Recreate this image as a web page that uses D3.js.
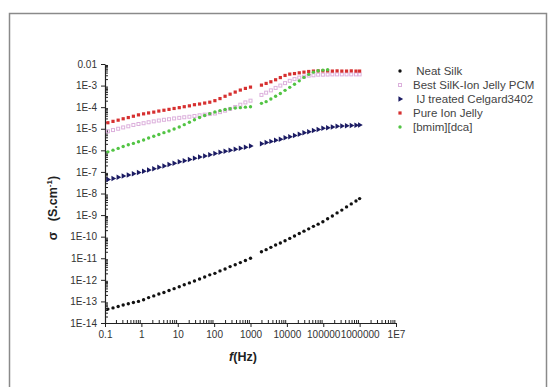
<!DOCTYPE html>
<html>
<head>
<meta charset="utf-8">
<title>Conductivity vs frequency</title>
<script src="https://d3js.org/d3.v7.min.js"></script>
<style>
  body { margin: 0; background: #fff; }
  svg text { font-family: "Liberation Sans", Arial, sans-serif; }
</style>
</head>
<body>
<div id="chart"></div>
<script>
// frequencies (Hz): first sweep up to 1 kHz, second sweep from 2 kHz
var freq = [0.12, 0.166, 0.23, 0.316, 0.437, 0.603, 0.832, 1.15, 1.58, 2.19, 3.02, 4.17, 5.75, 7.94,
  11, 15.1, 20.9, 28.8, 39.8, 55, 75.9, 105, 145, 200, 275, 380, 525, 724, 1000,
  2000, 2690, 3630, 4900, 6610, 8910, 12000, 16200, 21900, 29500, 39800, 53700, 72400, 97700,
  132000, 178000, 240000, 324000, 437000, 589000, 794000, 1000000];

var neatSilk = [4.4e-14, 5.0e-14, 5.8e-14, 6.8e-14, 7.8e-14, 8.9e-14, 1.0e-13, 1.2e-13, 1.5e-13, 1.8e-13,
  2.2e-13, 2.6e-13, 3.2e-13, 3.9e-13, 4.8e-13, 5.9e-13, 7.2e-13, 8.9e-13, 1.1e-12, 1.35e-12,
  1.7e-12, 2.0e-12, 2.6e-12, 3.2e-12, 4.1e-12, 5.0e-12, 6.3e-12, 7.9e-12, 1.0e-11,
  2.0e-11, 2.5e-11, 3.2e-11, 4.1e-11, 5.1e-11, 6.5e-11, 8.3e-11, 1.07e-10, 1.4e-10, 1.8e-10,
  2.3e-10, 3.0e-10, 3.8e-10, 4.9e-10, 6.8e-10, 9.1e-10, 1.26e-9, 1.7e-9, 2.4e-9, 3.3e-9, 4.5e-9, 5.8e-9];

var bestPCM = [7.6e-6, 8.7e-6, 1.0e-5, 1.15e-5, 1.3e-5, 1.5e-5, 1.66e-5, 1.8e-5, 2.0e-5, 2.2e-5,
  2.4e-5, 2.6e-5, 2.75e-5, 3.0e-5, 3.2e-5, 3.4e-5, 3.6e-5, 3.9e-5, 4.2e-5, 4.5e-5,
  4.8e-5, 5.1e-5, 5.9e-5, 6.9e-5, 8.3e-5, 1.02e-4, 1.3e-4, 1.66e-4, 2.0e-4,
  3.7e-4, 4.7e-4, 6.0e-4, 7.8e-4, 1.0e-3, 1.3e-3, 1.66e-3, 2.0e-3, 2.35e-3, 2.6e-3,
  2.9e-3, 3.0e-3, 3.2e-3, 3.2e-3, 3.25e-3, 3.3e-3, 3.3e-3, 3.3e-3, 3.3e-3, 3.3e-3, 3.3e-3, 3.3e-3];

var ijCelgard = [4.4e-8, 5.0e-8, 5.6e-8, 6.5e-8, 7.2e-8, 8.3e-8, 9.3e-8, 1.07e-7, 1.23e-7, 1.4e-7,
  1.66e-7, 1.9e-7, 2.2e-7, 2.5e-7, 2.95e-7, 3.3e-7, 3.8e-7, 4.3e-7, 4.9e-7, 5.5e-7,
  6.3e-7, 7.2e-7, 8.1e-7, 9.1e-7, 1.02e-6, 1.12e-6, 1.26e-6, 1.4e-6, 1.6e-6,
  2.0e-6, 2.3e-6, 2.6e-6, 2.95e-6, 3.3e-6, 3.8e-6, 4.3e-6, 4.9e-6, 5.6e-6, 6.5e-6,
  7.2e-6, 8.3e-6, 9.3e-6, 1.05e-5, 1.12e-5, 1.2e-5, 1.3e-5, 1.35e-5, 1.38e-5, 1.41e-5, 1.45e-5, 1.48e-5];

var pureIonJelly = [1.9e-5, 2.2e-5, 2.5e-5, 2.9e-5, 3.3e-5, 3.8e-5, 4.4e-5, 4.9e-5, 5.4e-5, 5.9e-5,
  6.6e-5, 7.2e-5, 7.9e-5, 8.7e-5, 9.5e-5, 1.05e-4, 1.15e-4, 1.3e-4, 1.4e-4, 1.55e-4,
  1.7e-4, 2.0e-4, 2.5e-4, 3.2e-4, 4.0e-4, 5.0e-4, 6.2e-4, 7.4e-4, 8.5e-4,
  1.05e-3, 1.26e-3, 1.5e-3, 1.86e-3, 2.35e-3, 2.95e-3, 3.4e-3, 3.6e-3, 3.9e-3, 4.2e-3,
  4.5e-3, 4.7e-3, 4.8e-3, 4.8e-3, 4.8e-3, 4.7e-3, 4.8e-3, 4.7e-3, 4.7e-3, 4.8e-3, 4.7e-3, 4.7e-3];

var bmimDca = [8.5e-7, 1.02e-6, 1.23e-6, 1.5e-6, 1.8e-6, 2.1e-6, 2.5e-6, 3.0e-6, 3.7e-6, 4.5e-6,
  5.4e-6, 6.6e-6, 7.9e-6, 9.8e-6, 1.2e-5, 1.55e-5, 2.0e-5, 2.6e-5, 3.3e-5, 4.1e-5,
  5.0e-5, 6.0e-5, 6.9e-5, 7.8e-5, 8.5e-5, 9.1e-5, 9.5e-5, 1.0e-4, 1.05e-4,
  1.5e-4, 1.8e-4, 2.4e-4, 3.2e-4, 4.3e-4, 6.0e-4, 8.3e-4, 1.15e-3, 1.66e-3, 2.4e-3,
  3.3e-3, 4.2e-3, 4.9e-3, 5.2e-3, 5.4e-3];

var seriesNames = [" Neat Silk", "Best SilK-Ion Jelly PCM", " IJ treated Celgard3402", "Pure Ion Jelly", "[bmim][dca]"];
var seriesValues = [neatSilk, bestPCM, ijCelgard, pureIonJelly, bmimDca];

var xTicks = [0.1, 1, 10, 100, 1000, 10000, 100000, 1000000, 1e7];
var xTickLabels = ["0.1", "1", "10", "100", "1000", "10000", "100000", "1000000", "1E7"];
var yTicks = [1e-14, 1e-13, 1e-12, 1e-11, 1e-10, 1e-9, 1e-8, 1e-7, 1e-6, 1e-5, 1e-4, 1e-3, 0.01];
var yTickLabels = ["1E-14", "1E-13", "1E-12", "1E-11", "1E-10", "1E-9", "1E-8", "1E-7", "1E-6", "1E-5", "1E-4", "1E-3", "0.01"];

var width = 549, height = 387;
var svg = d3.select("#chart").append("svg")
  .attr("width", width)
  .attr("height", height);

// outer frame of the figure
svg.append("rect")
  .attr("x", 9.5).attr("y", 13.5)
  .attr("width", 537).attr("height", 390)
  .attr("fill", "none")
  .attr("stroke", "#8a8a8a")
  .attr("stroke-width", 1.5);

var x = d3.scaleLog().domain([0.1, 1e7]).range([105, 396]);
var y = d3.scaleLog().domain([1e-14, 0.01]).range([323, 64]);

var isMajor = function (d) { return Math.abs(Math.log10(d) - Math.round(Math.log10(d))) < 1e-6; };

// minor ticks
var xMinor = x.ticks(20).filter(function (d) { return !isMajor(d); });
var yMinor = y.ticks(20).filter(function (d) { return !isMajor(d); });

svg.append("g")
  .attr("transform", "translate(0,323)")
  .call(d3.axisTop(x).tickValues(xMinor).tickFormat("").tickSize(3).tickSizeOuter(0))
  .call(function (g) { g.select(".domain").remove(); })
  .selectAll("line").attr("stroke", "#222");

svg.append("g")
  .attr("transform", "translate(105,0)")
  .call(d3.axisRight(y).tickValues(yMinor).tickFormat("").tickSize(3).tickSizeOuter(0))
  .call(function (g) { g.select(".domain").remove(); })
  .selectAll("line").attr("stroke", "#222");

var xAxis = svg.append("g")
  .attr("transform", "translate(0,323)")
  .call(d3.axisBottom(x).tickValues(xTicks)
    .tickFormat(function (d, i) { return xTickLabels[i]; })
    .tickSize(4).tickSizeOuter(0).tickPadding(4));

var yAxis = svg.append("g")
  .attr("transform", "translate(105,0)")
  .call(d3.axisLeft(y).tickValues(yTicks)
    .tickFormat(function (d, i) { return yTickLabels[i]; })
    .tickSize(4).tickSizeOuter(0).tickPadding(4));

[xAxis, yAxis].forEach(function (g) {
  g.select(".domain").attr("stroke", "#222").attr("stroke-width", 1.2);
  g.selectAll(".tick line").attr("stroke", "#222");
  g.selectAll(".tick text").attr("fill", "#333").style("font-size", "10px");
});

// markers
var markers = [
  { type: "circle", fill: "#111", stroke: "none" },
  { type: "square", fill: "none", stroke: "#dcb0dc", size: 3 },
  { type: "triangle", fill: "#1b1b63", stroke: "none" },
  { type: "square", fill: "#d63030", stroke: "none", size: 3.2 },
  { type: "circle", fill: "#52c444", stroke: "none" }
];

function drawMarker(sel, m) {
  if (m.type === "circle") {
    sel.append("circle").attr("r", 1.7).attr("fill", m.fill);
  } else if (m.type === "square") {
    sel.append("rect")
      .attr("x", -m.size / 2).attr("y", -m.size / 2)
      .attr("width", m.size).attr("height", m.size)
      .attr("fill", m.fill)
      .attr("stroke", m.stroke)
      .attr("stroke-width", m.fill === "none" ? 1 : 0);
  } else {
    sel.append("path")
      .attr("d", d3.symbol().type(d3.symbolTriangle).size(13)())
      .attr("transform", "rotate(90)")
      .attr("fill", m.fill);
  }
}

seriesValues.forEach(function (vals, s) {
  var pts = vals.map(function (v, i) { return { f: freq[i], v: v }; });
  svg.append("g").selectAll("g")
    .data(pts).enter()
    .append("g")
    .attr("transform", function (d) { return "translate(" + x(d.f) + "," + y(d.v) + ")"; })
    .each(function () { drawMarker(d3.select(this), markers[s]); });
});

// legend
var legend = svg.append("g").attr("transform", "translate(400,71)");
seriesNames.forEach(function (name, i) {
  var row = legend.append("g").attr("transform", "translate(0," + (i * 14) + ")");
  drawMarker(row, markers[i]);
  row.append("text")
    .attr("x", 13).attr("y", 4)
    .attr("fill", "#444")
    .style("font-size", "11.5px")
    .style("white-space", "pre")
    .text(name);
});

// axis titles
var yTitle = svg.append("text")
  .attr("transform", "translate(57,208) rotate(-90)")
  .attr("text-anchor", "middle")
  .attr("fill", "#222")
  .style("font-size", "12.5px")
  .style("font-weight", "bold")
  .style("white-space", "pre");
yTitle.append("tspan").text("\u03c3   (S.cm");
yTitle.append("tspan").attr("dy", -5).style("font-size", "8px").text("-1");
yTitle.append("tspan").attr("dy", 5).text(")");

var xTitle = svg.append("text")
  .attr("x", 243).attr("y", 361)
  .attr("text-anchor", "middle")
  .attr("fill", "#222")
  .style("font-size", "12.5px")
  .style("font-weight", "bold");
xTitle.append("tspan").style("font-style", "italic").text("f");
xTitle.append("tspan").text("(Hz)");
</script>
</body>
</html>
